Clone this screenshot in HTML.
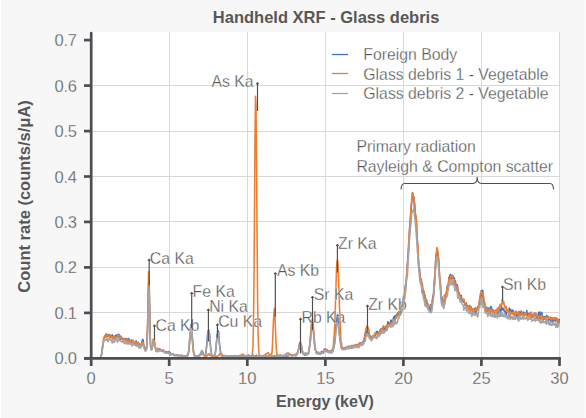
<!DOCTYPE html><html><head><meta charset="utf-8"><style>
html,body{margin:0;padding:0;background:#f7f7f7;width:586px;height:418px;overflow:hidden}
svg{display:block}
text{font-family:'Liberation Sans',sans-serif}
.er{stroke:#fff;stroke-width:0.28px;paint-order:normal}
.eg{stroke:#f7f7f7;stroke-width:0.28px;paint-order:normal}
</style></head><body>
<svg width="586" height="418" viewBox="0 0 586 418">
<rect x="0" y="0" width="586" height="418" fill="#f7f7f7"/>
<rect x="0" y="0" width="1" height="418" fill="#ffffff"/>
<rect x="585" y="0" width="1" height="418" fill="#fcfcfc"/>
<rect x="91" y="32" width="468.7" height="326.3" fill="#ffffff"/>

<line x1="169.5" y1="32" x2="169.5" y2="358.3" stroke="#d9d9d9" stroke-width="1"/>
<line x1="247.5" y1="32" x2="247.5" y2="358.3" stroke="#d9d9d9" stroke-width="1"/>
<line x1="325.5" y1="32" x2="325.5" y2="358.3" stroke="#d9d9d9" stroke-width="1"/>
<line x1="403.5" y1="32" x2="403.5" y2="358.3" stroke="#d9d9d9" stroke-width="1"/>
<line x1="481.5" y1="32" x2="481.5" y2="358.3" stroke="#d9d9d9" stroke-width="1"/>
<line x1="559.5" y1="32" x2="559.5" y2="358.3" stroke="#d9d9d9" stroke-width="1"/>
<line x1="91.2" y1="312.5" x2="559.7" y2="312.5" stroke="#d9d9d9" stroke-width="1"/>
<line x1="91.2" y1="267.5" x2="559.7" y2="267.5" stroke="#d9d9d9" stroke-width="1"/>
<line x1="91.2" y1="221.5" x2="559.7" y2="221.5" stroke="#d9d9d9" stroke-width="1"/>
<line x1="91.2" y1="176.5" x2="559.7" y2="176.5" stroke="#d9d9d9" stroke-width="1"/>
<line x1="91.2" y1="131.5" x2="559.7" y2="131.5" stroke="#d9d9d9" stroke-width="1"/>
<line x1="91.2" y1="85.5" x2="559.7" y2="85.5" stroke="#d9d9d9" stroke-width="1"/>
<path d="M91.2,358.3 L91.7,358.3 L92.2,358.3 L92.7,358.3 L93.2,358.3 L93.7,358.3 L94.2,358.3 L94.7,358.3 L95.2,358.3 L95.7,358.3 L96.2,358.3 L96.7,358.3 L97.2,358.3 L97.7,358.3 L98.2,358.3 L98.7,358.3 L99.2,358.3 L99.7,358.3 L100.2,358.2 L100.7,356.9 L101.2,355.9 L101.7,353.8 L102.2,348.7 L102.7,346.0 L103.2,343.5 L103.7,339.4 L104.2,337.1 L104.7,336.9 L105.2,337.1 L105.7,335.1 L106.2,334.0 L106.7,335.6 L107.2,336.4 L107.7,335.1 L108.2,334.7 L108.7,336.2 L109.2,335.2 L109.7,334.6 L110.2,336.3 L110.7,337.2 L111.2,335.7 L111.7,335.9 L112.2,334.8 L112.7,338.0 L113.2,337.2 L113.7,337.5 L114.2,338.7 L114.7,336.4 L115.2,335.9 L115.7,337.6 L116.2,335.0 L116.7,335.7 L117.2,335.7 L117.7,335.6 L118.2,334.2 L118.7,336.9 L119.2,334.6 L119.7,335.4 L120.2,339.3 L120.7,337.3 L121.2,338.4 L121.7,337.4 L122.2,339.1 L122.7,338.7 L123.2,338.5 L123.7,340.1 L124.2,338.5 L124.7,339.5 L125.2,339.0 L125.7,340.4 L126.2,338.6 L126.7,339.4 L127.2,340.4 L127.7,339.6 L128.2,339.1 L128.7,338.6 L129.2,342.7 L129.7,340.0 L130.2,340.6 L130.7,341.4 L131.2,342.6 L131.7,340.1 L132.2,343.1 L132.7,341.2 L133.2,340.6 L133.7,344.0 L134.2,342.7 L134.7,344.0 L135.2,342.4 L135.7,341.2 L136.2,340.9 L136.7,345.2 L137.2,344.1 L137.7,342.9 L138.2,342.2 L138.7,343.6 L139.2,345.0 L139.7,344.2 L140.2,344.7 L140.7,345.1 L141.2,345.4 L141.7,343.0 L142.2,340.8 L142.7,339.3 L143.2,340.1 L143.6,344.2 L144.1,346.5 L144.6,347.0 L145.1,349.2 L145.6,350.6 L146.1,348.2 L146.6,347.5 L147.1,339.8 L147.6,326.0 L148.1,301.1 L148.6,283.6 L149.1,283.0 L149.6,305.5 L150.1,334.8 L150.6,346.0 L151.1,348.3 L151.6,349.7 L152.1,348.1 L152.6,345.9 L153.1,342.5 L153.6,339.6 L154.1,341.3 L154.6,342.8 L155.1,347.0 L155.6,348.3 L156.1,351.2 L156.6,351.0 L157.1,349.3 L157.6,350.4 L158.1,349.5 L158.6,349.5 L159.1,348.9 L159.6,349.4 L160.1,349.3 L160.6,350.2 L161.1,350.8 L161.6,350.9 L162.1,350.9 L162.6,351.5 L163.1,351.2 L163.6,351.1 L164.1,351.0 L164.6,351.7 L165.1,353.0 L165.6,351.9 L166.1,351.9 L166.6,351.6 L167.1,352.1 L167.6,353.1 L168.1,353.4 L168.6,351.8 L169.1,352.8 L169.6,352.3 L170.1,352.3 L170.6,354.2 L171.1,353.7 L171.6,353.8 L172.1,354.0 L172.6,354.1 L173.1,354.5 L173.6,354.6 L174.1,355.6 L174.6,355.1 L175.1,355.4 L175.6,355.1 L176.1,355.4 L176.6,355.0 L177.1,354.9 L177.6,355.2 L178.1,355.3 L178.6,355.4 L179.1,355.7 L179.6,355.6 L180.1,355.8 L180.6,355.5 L181.1,355.7 L181.6,355.5 L182.1,356.4 L182.6,355.4 L183.1,356.2 L183.6,356.2 L184.1,356.0 L184.6,356.2 L185.1,355.9 L185.6,356.3 L186.1,356.5 L186.6,356.4 L187.1,355.4 L187.6,355.5 L188.1,355.1 L188.6,352.0 L189.1,349.0 L189.6,339.1 L190.1,335.9 L190.6,327.0 L191.1,324.5 L191.6,329.9 L192.1,333.4 L192.6,340.1 L193.1,347.2 L193.6,351.9 L194.1,354.0 L194.6,355.6 L195.1,355.9 L195.6,356.3 L196.1,356.0 L196.6,356.6 L197.1,355.9 L197.6,356.5 L198.1,356.7 L198.6,356.0 L199.1,355.3 L199.6,355.2 L200.1,355.1 L200.6,353.3 L201.1,352.6 L201.6,351.3 L202.1,350.7 L202.6,353.1 L203.1,352.5 L203.6,354.6 L204.1,355.4 L204.6,356.1 L205.1,356.0 L205.6,354.6 L206.1,350.9 L206.6,345.8 L207.1,341.6 L207.6,333.9 L208.1,330.8 L208.6,331.4 L209.1,330.2 L209.6,334.8 L210.1,342.1 L210.6,347.1 L211.1,351.1 L211.6,354.6 L212.1,356.1 L212.6,356.0 L213.1,356.2 L213.6,356.3 L214.1,355.5 L214.6,354.5 L215.1,354.1 L215.6,350.8 L216.1,346.3 L216.6,341.1 L217.1,335.1 L217.6,333.2 L218.1,330.8 L218.6,331.5 L219.1,338.1 L219.6,345.3 L220.1,348.9 L220.6,352.0 L221.1,354.5 L221.6,355.9 L222.1,355.4 L222.6,356.7 L223.1,356.0 L223.6,356.3 L224.1,356.7 L224.6,355.8 L225.1,356.1 L225.6,356.7 L226.1,356.0 L226.6,356.4 L227.1,357.0 L227.6,356.5 L228.1,356.2 L228.6,356.0 L229.1,356.2 L229.6,356.2 L230.1,356.1 L230.6,356.3 L231.1,355.8 L231.6,356.2 L232.1,356.1 L232.6,356.0 L233.1,356.7 L233.6,356.5 L234.1,355.6 L234.6,356.1 L235.1,356.4 L235.6,356.1 L236.1,356.4 L236.6,356.1 L237.1,356.5 L237.6,356.1 L238.1,356.9 L238.6,355.7 L239.1,356.4 L239.6,356.9 L240.1,356.3 L240.6,356.4 L241.1,356.2 L241.6,356.7 L242.1,356.1 L242.6,354.8 L243.1,356.7 L243.6,356.1 L244.1,356.3 L244.6,356.1 L245.1,356.9 L245.6,356.7 L246.1,356.0 L246.6,356.2 L247.1,355.5 L247.5,356.5 L248.0,356.1 L248.5,355.0 L249.0,356.5 L249.5,356.5 L250.0,356.2 L250.5,356.2 L251.0,355.8 L251.5,356.1 L252.0,356.5 L252.5,356.1 L253.0,355.1 L253.5,355.6 L254.0,357.3 L254.5,356.2 L255.0,356.5 L255.5,355.9 L256.0,356.2 L256.5,355.3 L257.0,355.7 L257.5,355.7 L258.0,356.0 L258.5,356.1 L259.0,355.9 L259.5,355.5 L260.0,355.9 L260.5,356.2 L261.0,355.5 L261.5,356.0 L262.0,356.1 L262.5,356.4 L263.0,356.3 L263.5,356.3 L264.0,357.2 L264.5,355.6 L265.0,355.8 L265.5,356.1 L266.0,355.6 L266.5,355.8 L267.0,355.8 L267.5,357.0 L268.0,356.1 L268.5,355.7 L269.0,355.3 L269.5,355.2 L270.0,355.3 L270.5,356.4 L271.0,356.9 L271.5,355.7 L272.0,355.9 L272.5,355.5 L273.0,355.9 L273.5,355.8 L274.0,356.5 L274.5,355.7 L275.0,356.1 L275.5,355.7 L276.0,355.6 L276.5,355.9 L277.0,355.7 L277.5,355.8 L278.0,355.5 L278.5,355.6 L279.0,356.0 L279.5,356.0 L280.0,355.0 L280.5,355.8 L281.0,355.3 L281.5,355.6 L282.0,356.0 L282.5,356.0 L283.0,355.6 L283.5,355.5 L284.0,355.4 L284.5,356.2 L285.0,355.9 L285.5,355.6 L286.0,354.8 L286.5,356.6 L287.0,355.3 L287.5,355.7 L288.0,355.2 L288.5,355.6 L289.0,355.2 L289.5,354.6 L290.0,355.2 L290.5,355.1 L291.0,355.1 L291.5,355.6 L292.0,354.9 L292.5,355.3 L293.0,355.5 L293.5,355.1 L294.0,355.2 L294.5,354.7 L295.0,355.0 L295.5,355.2 L296.0,354.1 L296.5,354.0 L297.0,353.3 L297.5,352.6 L298.0,351.5 L298.5,349.5 L299.0,346.9 L299.5,343.4 L300.0,342.9 L300.5,344.7 L301.0,344.5 L301.5,348.1 L302.0,349.1 L302.5,352.2 L303.0,353.6 L303.5,353.6 L304.0,354.1 L304.5,355.2 L305.0,353.9 L305.5,353.1 L306.0,355.1 L306.5,353.2 L307.0,354.5 L307.5,354.2 L308.0,353.5 L308.5,353.4 L309.0,349.6 L309.5,347.2 L310.0,344.1 L310.5,338.3 L311.0,334.3 L311.5,327.6 L312.0,322.7 L312.5,326.9 L313.0,327.7 L313.5,331.7 L314.0,336.3 L314.5,341.5 L315.0,347.6 L315.5,350.6 L316.0,351.4 L316.5,352.9 L317.0,353.2 L317.5,352.5 L318.0,352.1 L318.5,353.0 L319.0,353.3 L319.5,352.7 L320.0,354.2 L320.5,353.0 L321.0,353.5 L321.5,351.2 L322.0,352.1 L322.5,352.1 L323.0,352.0 L323.5,353.1 L324.0,350.2 L324.5,348.9 L325.0,350.4 L325.5,349.1 L326.0,349.2 L326.5,351.4 L327.0,349.9 L327.5,350.0 L328.0,351.2 L328.5,351.6 L329.0,351.1 L329.5,352.8 L330.0,351.6 L330.5,350.8 L331.0,352.4 L331.5,350.6 L332.0,351.4 L332.5,352.2 L333.0,349.9 L333.5,349.3 L334.0,345.9 L334.5,344.0 L335.0,336.7 L335.5,333.4 L336.0,325.8 L336.5,322.1 L337.0,318.1 L337.5,314.4 L338.0,317.9 L338.5,323.1 L339.0,329.8 L339.5,332.0 L340.0,337.8 L340.5,343.1 L341.0,345.3 L341.5,348.1 L342.0,349.0 L342.5,349.2 L343.0,348.3 L343.5,348.4 L344.0,349.2 L344.5,347.8 L345.0,347.6 L345.5,348.0 L346.0,347.2 L346.5,348.2 L347.0,347.9 L347.5,347.3 L348.0,347.6 L348.5,346.8 L349.0,348.5 L349.5,345.9 L350.0,347.8 L350.5,347.2 L351.0,348.2 L351.4,346.2 L351.9,345.4 L352.4,345.5 L352.9,345.6 L353.4,347.7 L353.9,346.8 L354.4,346.4 L354.9,346.7 L355.4,344.5 L355.9,345.3 L356.4,345.4 L356.9,344.7 L357.4,346.0 L357.9,345.8 L358.4,345.6 L358.9,344.0 L359.4,344.0 L359.9,343.5 L360.4,342.8 L360.9,345.1 L361.4,344.1 L361.9,343.0 L362.4,344.3 L362.9,343.0 L363.4,340.7 L363.9,339.6 L364.4,338.3 L364.9,337.8 L365.4,336.2 L365.9,332.4 L366.4,332.8 L366.9,330.8 L367.4,329.4 L367.9,332.6 L368.4,334.2 L368.9,334.7 L369.4,335.2 L369.9,336.1 L370.4,337.0 L370.9,336.6 L371.4,339.2 L371.9,338.0 L372.4,336.4 L372.9,337.5 L373.4,337.7 L373.9,337.2 L374.4,336.5 L374.9,335.2 L375.4,336.0 L375.9,334.0 L376.4,331.6 L376.9,333.8 L377.4,331.5 L377.9,332.5 L378.4,334.1 L378.9,332.6 L379.4,333.3 L379.9,330.4 L380.4,332.8 L380.9,328.9 L381.4,329.6 L381.9,333.0 L382.4,328.5 L382.9,327.0 L383.4,330.1 L383.9,327.1 L384.4,330.9 L384.9,327.4 L385.4,329.9 L385.9,326.2 L386.4,329.4 L386.9,330.3 L387.4,325.1 L387.9,321.7 L388.4,325.9 L388.9,323.2 L389.4,324.0 L389.9,324.2 L390.4,322.3 L390.9,320.1 L391.4,324.5 L391.9,321.0 L392.4,320.9 L392.9,323.4 L393.4,317.8 L393.9,316.7 L394.4,321.1 L394.9,315.9 L395.4,318.3 L395.9,318.1 L396.4,314.6 L396.9,316.3 L397.4,315.5 L397.9,312.7 L398.4,312.4 L398.9,312.4 L399.4,315.8 L399.9,315.2 L400.4,309.1 L400.9,311.8 L401.4,308.3 L401.9,309.0 L402.4,305.3 L402.9,305.4 L403.4,297.1 L403.9,300.0 L404.4,295.3 L404.9,292.0 L405.4,285.1 L405.9,285.9 L406.4,277.9 L406.9,272.6 L407.4,264.8 L407.9,258.2 L408.4,251.0 L408.9,239.8 L409.4,233.1 L409.9,224.1 L410.4,219.0 L410.9,213.7 L411.4,206.1 L411.9,199.9 L412.4,192.5 L412.9,197.3 L413.4,196.8 L413.9,197.0 L414.4,207.8 L414.9,211.6 L415.4,215.5 L415.9,218.7 L416.4,219.8 L416.9,233.2 L417.4,240.4 L417.9,250.6 L418.4,262.3 L418.9,268.6 L419.4,267.6 L419.9,273.8 L420.4,280.2 L420.9,278.2 L421.4,286.3 L421.9,283.2 L422.4,284.7 L422.9,291.2 L423.4,293.8 L423.9,291.6 L424.4,297.4 L424.9,295.2 L425.4,301.1 L425.9,298.7 L426.4,301.7 L426.9,304.1 L427.4,306.2 L427.9,304.8 L428.4,309.9 L428.9,307.4 L429.4,308.3 L429.9,306.6 L430.4,310.6 L430.9,304.5 L431.4,307.7 L431.9,307.7 L432.4,300.1 L432.9,296.0 L433.4,295.0 L433.9,290.5 L434.4,281.7 L434.9,275.5 L435.4,267.1 L435.9,256.6 L436.4,253.9 L436.9,251.6 L437.4,251.1 L437.9,254.5 L438.4,257.6 L438.9,264.1 L439.4,274.0 L439.9,280.5 L440.4,282.5 L440.9,292.3 L441.4,298.1 L441.9,296.7 L442.4,302.6 L442.9,305.2 L443.4,300.9 L443.9,302.8 L444.4,300.2 L444.9,296.5 L445.4,295.3 L445.9,294.7 L446.4,292.5 L446.9,290.8 L447.4,285.3 L447.9,287.1 L448.4,284.8 L448.9,277.4 L449.4,280.9 L449.9,275.2 L450.4,274.4 L450.9,276.6 L451.4,278.9 L451.9,275.3 L452.4,275.5 L452.9,275.7 L453.4,278.7 L453.9,277.6 L454.4,278.5 L454.9,284.8 L455.4,281.0 L455.8,284.7 L456.3,287.3 L456.8,288.0 L457.3,284.7 L457.8,287.8 L458.3,294.7 L458.8,292.1 L459.3,293.7 L459.8,294.9 L460.3,296.6 L460.8,299.5 L461.3,295.6 L461.8,300.2 L462.3,299.9 L462.8,301.2 L463.3,302.3 L463.8,300.1 L464.3,301.5 L464.8,304.4 L465.3,305.6 L465.8,305.3 L466.3,303.0 L466.8,305.4 L467.3,305.8 L467.8,307.5 L468.3,307.9 L468.8,307.5 L469.3,312.0 L469.8,305.6 L470.3,310.6 L470.8,310.5 L471.3,307.1 L471.8,309.5 L472.3,310.1 L472.8,311.6 L473.3,313.6 L473.8,310.5 L474.3,308.6 L474.8,312.7 L475.3,308.3 L475.8,313.0 L476.3,311.9 L476.8,309.1 L477.3,309.2 L477.8,306.5 L478.3,307.5 L478.8,305.6 L479.3,304.4 L479.8,299.9 L480.3,296.7 L480.8,295.2 L481.3,290.6 L481.8,292.8 L482.3,297.0 L482.8,290.3 L483.3,300.0 L483.8,303.8 L484.3,301.3 L484.8,303.6 L485.3,309.7 L485.8,311.3 L486.3,311.0 L486.8,307.2 L487.3,310.2 L487.8,311.4 L488.3,310.0 L488.8,307.8 L489.3,312.9 L489.8,311.1 L490.3,313.1 L490.8,306.4 L491.3,307.2 L491.8,308.9 L492.3,311.1 L492.8,309.7 L493.3,315.0 L493.8,310.6 L494.3,313.7 L494.8,313.8 L495.3,312.7 L495.8,312.1 L496.3,310.4 L496.8,310.2 L497.3,311.1 L497.8,313.4 L498.3,310.3 L498.8,311.6 L499.3,309.0 L499.8,312.7 L500.3,315.9 L500.8,311.2 L501.3,305.8 L501.8,308.8 L502.3,310.0 L502.8,308.0 L503.3,309.0 L503.8,309.4 L504.3,311.7 L504.8,311.0 L505.3,311.2 L505.8,313.2 L506.3,314.4 L506.8,312.2 L507.3,310.8 L507.8,311.5 L508.3,311.9 L508.8,311.9 L509.3,308.1 L509.8,312.5 L510.3,311.1 L510.8,309.4 L511.3,313.0 L511.8,312.6 L512.3,311.2 L512.8,310.0 L513.3,312.6 L513.8,312.6 L514.3,313.1 L514.8,315.5 L515.3,311.3 L515.8,313.8 L516.3,316.6 L516.8,313.7 L517.3,316.7 L517.8,315.4 L518.3,313.5 L518.8,315.3 L519.3,311.7 L519.8,316.4 L520.3,313.2 L520.8,312.7 L521.3,311.1 L521.8,312.2 L522.3,313.5 L522.8,313.8 L523.3,314.1 L523.8,312.0 L524.3,315.4 L524.8,313.3 L525.3,314.4 L525.8,313.9 L526.3,314.9 L526.8,310.5 L527.3,315.7 L527.8,314.1 L528.3,314.1 L528.8,313.6 L529.3,314.0 L529.8,314.1 L530.3,313.1 L530.8,317.7 L531.3,315.0 L531.8,317.4 L532.3,314.8 L532.8,317.4 L533.3,317.1 L533.8,315.5 L534.3,313.0 L534.8,314.5 L535.3,315.1 L535.8,313.2 L536.3,317.5 L536.8,319.7 L537.3,316.7 L537.8,316.6 L538.3,313.9 L538.8,312.4 L539.3,318.7 L539.8,311.9 L540.3,313.7 L540.8,315.1 L541.3,316.0 L541.8,312.4 L542.3,316.7 L542.8,317.8 L543.3,316.8 L543.8,319.5 L544.3,316.4 L544.8,317.5 L545.3,316.8 L545.8,316.9 L546.3,319.5 L546.8,315.4 L547.3,319.6 L547.8,316.3 L548.3,320.8 L548.8,317.4 L549.3,319.6 L549.8,318.2 L550.3,319.5 L550.8,322.3 L551.3,320.6 L551.8,318.6 L552.3,317.7 L552.8,321.5 L553.3,322.7 L553.8,320.7 L554.3,319.6 L554.8,320.5 L555.3,320.9 L555.8,318.1 L556.3,318.0 L556.8,318.5 L557.3,321.5 L557.8,319.9 L558.3,320.5 L558.8,322.8 L559.3,319.0" fill="none" stroke="#4472c4" stroke-width="1.55" stroke-linejoin="round"/>
<path d="M91.2,358.3 L91.7,358.3 L92.2,358.3 L92.7,358.3 L93.2,358.3 L93.7,358.3 L94.2,358.3 L94.7,358.3 L95.2,358.3 L95.7,358.3 L96.2,358.3 L96.7,358.3 L97.2,358.3 L97.7,358.3 L98.2,358.3 L98.7,358.3 L99.2,358.3 L99.7,358.3 L100.2,358.1 L100.7,357.2 L101.2,355.1 L101.7,352.7 L102.2,349.7 L102.7,344.6 L103.2,341.9 L103.7,338.2 L104.2,338.5 L104.7,335.8 L105.2,336.5 L105.7,336.6 L106.2,337.6 L106.7,333.6 L107.2,336.0 L107.7,335.8 L108.2,335.0 L108.7,336.4 L109.2,335.8 L109.7,337.8 L110.2,336.3 L110.7,337.0 L111.2,336.1 L111.7,336.5 L112.2,338.1 L112.7,338.6 L113.2,337.8 L113.7,336.1 L114.2,336.5 L114.7,336.5 L115.2,339.0 L115.7,339.7 L116.2,337.7 L116.7,337.4 L117.2,337.3 L117.7,335.5 L118.2,335.0 L118.7,335.5 L119.2,335.5 L119.7,335.5 L120.2,336.9 L120.7,338.0 L121.2,336.3 L121.7,339.0 L122.2,338.8 L122.7,340.0 L123.2,339.6 L123.7,339.0 L124.2,339.1 L124.7,339.9 L125.2,339.6 L125.7,340.1 L126.2,342.0 L126.7,343.4 L127.2,338.5 L127.7,340.0 L128.2,340.9 L128.7,342.6 L129.2,342.3 L129.7,340.1 L130.2,343.9 L130.7,341.9 L131.2,341.0 L131.7,341.8 L132.2,341.4 L132.7,342.3 L133.2,340.3 L133.7,343.4 L134.2,343.8 L134.7,342.6 L135.2,341.8 L135.7,343.2 L136.2,342.5 L136.7,344.0 L137.2,344.7 L137.7,342.8 L138.2,342.9 L138.7,343.1 L139.2,344.9 L139.7,345.7 L140.2,345.9 L140.7,345.4 L141.2,344.7 L141.7,344.1 L142.2,344.3 L142.7,341.9 L143.2,342.6 L143.6,344.6 L144.1,347.0 L144.6,348.6 L145.1,348.9 L145.6,349.5 L146.1,349.3 L146.6,348.4 L147.1,341.0 L147.6,323.5 L148.1,297.6 L148.6,271.5 L149.1,278.5 L149.6,304.3 L150.1,332.0 L150.6,345.0 L151.1,348.7 L151.6,349.0 L152.1,347.8 L152.6,346.0 L153.1,339.4 L153.6,340.2 L154.1,339.6 L154.6,341.8 L155.1,345.6 L155.6,347.9 L156.1,349.0 L156.6,349.1 L157.1,349.8 L157.6,348.2 L158.1,350.7 L158.6,349.9 L159.1,350.3 L159.6,350.4 L160.1,350.0 L160.6,349.3 L161.1,350.7 L161.6,350.8 L162.1,350.1 L162.6,350.4 L163.1,349.7 L163.6,350.5 L164.1,351.1 L164.6,351.6 L165.1,351.5 L165.6,352.0 L166.1,352.8 L166.6,352.3 L167.1,352.6 L167.6,352.8 L168.1,353.1 L168.6,352.3 L169.1,352.9 L169.6,353.0 L170.1,353.9 L170.6,354.2 L171.1,354.1 L171.6,354.0 L172.1,354.4 L172.6,354.5 L173.1,354.2 L173.6,354.6 L174.1,355.3 L174.6,355.1 L175.1,355.3 L175.6,355.1 L176.1,355.6 L176.6,355.3 L177.1,355.1 L177.6,355.4 L178.1,355.7 L178.6,355.7 L179.1,355.5 L179.6,355.4 L180.1,355.3 L180.6,355.7 L181.1,356.2 L181.6,355.3 L182.1,355.7 L182.6,355.7 L183.1,355.8 L183.6,356.3 L184.1,356.0 L184.6,355.9 L185.1,355.7 L185.6,356.0 L186.1,357.1 L186.6,356.1 L187.1,355.9 L187.6,355.2 L188.1,354.4 L188.6,351.5 L189.1,348.2 L189.6,342.7 L190.1,336.8 L190.6,334.2 L191.1,329.8 L191.6,332.1 L192.1,338.3 L192.6,343.4 L193.1,348.9 L193.6,353.0 L194.1,354.9 L194.6,355.8 L195.1,356.0 L195.6,356.3 L196.1,356.1 L196.6,356.8 L197.1,356.3 L197.6,356.8 L198.1,356.4 L198.6,356.1 L199.1,356.2 L199.6,356.1 L200.1,355.7 L200.6,354.5 L201.1,354.8 L201.6,353.3 L202.1,354.2 L202.6,354.1 L203.1,354.5 L203.6,355.6 L204.1,355.7 L204.6,355.8 L205.1,356.5 L205.6,356.2 L206.1,356.1 L206.6,356.4 L207.1,355.4 L207.6,355.2 L208.1,354.0 L208.6,354.8 L209.1,353.9 L209.6,355.1 L210.1,354.7 L210.6,355.6 L211.1,355.9 L211.6,355.9 L212.1,355.9 L212.6,355.8 L213.1,355.7 L213.6,356.4 L214.1,356.6 L214.6,357.1 L215.1,356.4 L215.6,356.0 L216.1,356.1 L216.6,356.2 L217.1,356.3 L217.6,356.2 L218.1,355.8 L218.6,355.2 L219.1,355.4 L219.6,353.7 L220.1,354.1 L220.6,353.2 L221.1,353.5 L221.6,353.7 L222.1,354.6 L222.6,355.3 L223.1,355.5 L223.6,356.2 L224.1,355.3 L224.6,356.3 L225.1,356.4 L225.6,356.4 L226.1,356.6 L226.6,357.0 L227.1,356.3 L227.6,356.2 L228.1,356.7 L228.6,356.3 L229.1,356.6 L229.6,356.3 L230.1,356.1 L230.6,356.1 L231.1,356.1 L231.6,356.5 L232.1,356.0 L232.6,356.4 L233.1,356.2 L233.6,356.0 L234.1,356.3 L234.6,356.6 L235.1,356.1 L235.6,356.6 L236.1,356.5 L236.6,356.6 L237.1,356.0 L237.6,356.3 L238.1,356.9 L238.6,356.0 L239.1,355.5 L239.6,355.4 L240.1,356.0 L240.6,355.5 L241.1,354.9 L241.6,354.4 L242.1,354.5 L242.6,354.9 L243.1,354.2 L243.6,354.5 L244.1,355.5 L244.6,355.5 L245.1,355.6 L245.6,355.9 L246.1,355.9 L246.6,355.9 L247.1,356.0 L247.5,356.2 L248.0,356.6 L248.5,356.0 L249.0,355.8 L249.5,355.6 L250.0,356.2 L250.5,356.2 L251.0,355.7 L251.5,355.6 L252.0,355.4 L252.5,352.8 L253.0,345.2 L253.5,321.1 L254.0,277.6 L254.5,209.1 L255.0,138.6 L255.5,96.2 L256.0,105.4 L256.5,155.9 L257.0,226.5 L257.5,290.1 L258.0,329.9 L258.5,347.4 L259.0,353.7 L259.5,355.4 L260.0,356.3 L260.5,356.1 L261.0,356.2 L261.5,356.3 L262.0,356.5 L262.5,356.1 L263.0,356.3 L263.5,355.2 L264.0,355.8 L264.5,355.6 L265.0,355.3 L265.5,353.9 L266.0,354.5 L266.5,353.6 L267.0,353.4 L267.5,352.9 L268.0,352.9 L268.5,352.8 L269.0,354.5 L269.5,354.5 L270.0,354.4 L270.5,355.5 L271.0,355.3 L271.5,354.6 L272.0,352.6 L272.5,344.2 L273.0,331.3 L273.5,319.8 L274.0,312.1 L274.5,308.3 L275.0,317.5 L275.5,329.8 L276.0,342.1 L276.5,350.6 L277.0,353.8 L277.5,356.0 L278.0,355.3 L278.5,355.7 L279.0,355.4 L279.5,355.4 L280.0,355.9 L280.5,355.8 L281.0,356.0 L281.5,356.4 L282.0,355.8 L282.5,355.6 L283.0,356.0 L283.5,355.4 L284.0,355.5 L284.5,355.2 L285.0,355.4 L285.5,355.4 L286.0,353.9 L286.5,353.4 L287.0,353.2 L287.5,353.0 L288.0,352.9 L288.5,353.0 L289.0,353.5 L289.5,354.7 L290.0,353.9 L290.5,355.3 L291.0,355.0 L291.5,355.2 L292.0,355.0 L292.5,355.8 L293.0,354.7 L293.5,354.9 L294.0,354.8 L294.5,354.6 L295.0,355.3 L295.5,356.2 L296.0,354.7 L296.5,354.0 L297.0,353.5 L297.5,353.3 L298.0,351.5 L298.5,349.0 L299.0,348.0 L299.5,344.9 L300.0,343.5 L300.5,341.8 L301.0,345.0 L301.5,345.7 L302.0,349.3 L302.5,352.3 L303.0,351.7 L303.5,354.1 L304.0,353.8 L304.5,353.5 L305.0,354.5 L305.5,354.8 L306.0,353.8 L306.5,354.2 L307.0,354.6 L307.5,354.3 L308.0,353.5 L308.5,351.6 L309.0,350.3 L309.5,346.2 L310.0,340.3 L310.5,334.2 L311.0,327.1 L311.5,321.5 L312.0,321.8 L312.5,318.0 L313.0,322.5 L313.5,328.7 L314.0,336.3 L314.5,342.7 L315.0,347.0 L315.5,349.5 L316.0,352.2 L316.5,353.0 L317.0,353.3 L317.5,352.8 L318.0,353.3 L318.5,353.2 L319.0,352.5 L319.5,353.2 L320.0,352.7 L320.5,353.5 L321.0,352.7 L321.5,352.7 L322.0,352.4 L322.5,352.5 L323.0,352.4 L323.5,351.5 L324.0,351.0 L324.5,349.5 L325.0,349.2 L325.5,350.4 L326.0,349.4 L326.5,350.4 L327.0,350.3 L327.5,351.3 L328.0,352.2 L328.5,351.0 L329.0,351.4 L329.5,352.3 L330.0,352.7 L330.5,351.8 L331.0,352.1 L331.5,351.4 L332.0,350.3 L332.5,348.8 L333.0,348.0 L333.5,343.2 L334.0,337.3 L334.5,329.9 L335.0,319.5 L335.5,301.1 L336.0,285.7 L336.5,269.1 L337.0,261.3 L337.5,259.9 L338.0,263.4 L338.5,278.8 L339.0,291.5 L339.5,307.6 L340.0,318.7 L340.5,331.1 L341.0,342.1 L341.5,342.8 L342.0,347.2 L342.5,347.3 L343.0,348.7 L343.5,348.3 L344.0,348.1 L344.5,348.3 L345.0,348.9 L345.5,347.2 L346.0,347.8 L346.5,348.0 L347.0,347.3 L347.5,348.1 L348.0,346.3 L348.5,347.3 L349.0,347.1 L349.5,347.0 L350.0,347.8 L350.5,347.8 L351.0,346.7 L351.4,346.5 L351.9,345.6 L352.4,346.1 L352.9,347.1 L353.4,345.8 L353.9,345.5 L354.4,345.2 L354.9,345.5 L355.4,346.6 L355.9,344.6 L356.4,345.9 L356.9,344.7 L357.4,346.2 L357.9,344.2 L358.4,345.3 L358.9,343.6 L359.4,342.9 L359.9,343.2 L360.4,344.8 L360.9,344.4 L361.4,344.1 L361.9,342.6 L362.4,342.5 L362.9,342.1 L363.4,341.0 L363.9,339.4 L364.4,337.2 L364.9,333.4 L365.4,331.9 L365.9,328.3 L366.4,328.1 L366.9,326.1 L367.4,325.5 L367.9,327.7 L368.4,328.5 L368.9,330.3 L369.4,334.3 L369.9,336.0 L370.4,337.0 L370.9,336.8 L371.4,337.6 L371.9,336.4 L372.4,336.3 L372.9,335.9 L373.4,335.2 L373.9,335.6 L374.4,335.1 L374.9,333.1 L375.4,334.6 L375.9,333.4 L376.4,333.8 L376.9,334.0 L377.4,333.7 L377.9,333.7 L378.4,332.5 L378.9,332.8 L379.4,332.3 L379.9,330.1 L380.4,331.2 L380.9,329.4 L381.4,330.0 L381.9,329.0 L382.4,330.3 L382.9,329.0 L383.4,325.8 L383.9,327.5 L384.4,326.9 L384.9,327.4 L385.4,326.2 L385.9,328.2 L386.4,327.4 L386.9,325.5 L387.4,324.6 L387.9,325.7 L388.4,325.0 L388.9,324.8 L389.4,324.2 L389.9,325.0 L390.4,324.9 L390.9,322.7 L391.4,324.4 L391.9,323.0 L392.4,322.1 L392.9,322.1 L393.4,319.9 L393.9,320.3 L394.4,319.3 L394.9,320.0 L395.4,319.1 L395.9,316.8 L396.4,316.4 L396.9,317.0 L397.4,315.2 L397.9,314.8 L398.4,314.2 L398.9,311.4 L399.4,313.4 L399.9,311.2 L400.4,310.2 L400.9,309.9 L401.4,309.8 L401.9,305.3 L402.4,304.0 L402.9,302.1 L403.4,299.8 L403.9,297.2 L404.4,295.7 L404.9,290.4 L405.4,289.6 L405.9,282.2 L406.4,279.2 L406.9,271.6 L407.4,263.6 L407.9,258.3 L408.4,249.5 L408.9,238.0 L409.4,231.0 L409.9,223.9 L410.4,217.5 L410.9,207.9 L411.4,202.8 L411.9,197.6 L412.4,196.6 L412.9,192.9 L413.4,197.2 L413.9,197.0 L414.4,203.2 L414.9,203.0 L415.4,213.9 L415.9,214.8 L416.4,222.0 L416.9,235.3 L417.4,241.9 L417.9,246.7 L418.4,254.4 L418.9,265.6 L419.4,269.6 L419.9,275.2 L420.4,278.5 L420.9,280.9 L421.4,279.7 L421.9,284.8 L422.4,287.5 L422.9,289.7 L423.4,290.0 L423.9,291.9 L424.4,296.2 L424.9,294.3 L425.4,300.1 L425.9,300.5 L426.4,300.9 L426.9,300.3 L427.4,304.7 L427.9,304.7 L428.4,304.0 L428.9,305.8 L429.4,305.7 L429.9,306.3 L430.4,307.7 L430.9,306.8 L431.4,305.5 L431.9,305.3 L432.4,300.1 L432.9,302.0 L433.4,295.4 L433.9,285.4 L434.4,279.6 L434.9,273.2 L435.4,263.7 L435.9,255.4 L436.4,252.6 L436.9,247.6 L437.4,248.9 L437.9,251.7 L438.4,256.8 L438.9,261.9 L439.4,273.2 L439.9,279.8 L440.4,285.4 L440.9,294.4 L441.4,299.8 L441.9,299.8 L442.4,302.5 L442.9,303.2 L443.4,302.1 L443.9,302.6 L444.4,294.7 L444.9,298.8 L445.4,295.9 L445.9,295.5 L446.4,292.1 L446.9,287.3 L447.4,287.8 L447.9,284.8 L448.4,284.5 L448.9,278.9 L449.4,279.7 L449.9,280.3 L450.4,275.9 L450.9,277.0 L451.4,275.2 L451.9,276.1 L452.4,276.5 L452.9,277.6 L453.4,280.3 L453.9,282.5 L454.4,279.9 L454.9,283.0 L455.4,283.5 L455.8,285.8 L456.3,289.4 L456.8,289.4 L457.3,286.4 L457.8,291.1 L458.3,291.7 L458.8,294.6 L459.3,294.3 L459.8,295.2 L460.3,296.0 L460.8,296.7 L461.3,298.5 L461.8,299.3 L462.3,299.3 L462.8,299.6 L463.3,301.1 L463.8,298.9 L464.3,302.1 L464.8,302.9 L465.3,304.8 L465.8,302.8 L466.3,306.7 L466.8,308.2 L467.3,307.8 L467.8,306.0 L468.3,309.2 L468.8,306.0 L469.3,308.5 L469.8,311.1 L470.3,309.6 L470.8,306.8 L471.3,311.1 L471.8,312.0 L472.3,309.6 L472.8,308.6 L473.3,309.3 L473.8,311.4 L474.3,310.8 L474.8,310.6 L475.3,309.3 L475.8,307.8 L476.3,310.8 L476.8,308.2 L477.3,309.9 L477.8,307.2 L478.3,307.7 L478.8,305.0 L479.3,300.3 L479.8,299.2 L480.3,293.6 L480.8,293.7 L481.3,291.6 L481.8,292.1 L482.3,294.0 L482.8,295.6 L483.3,297.0 L483.8,296.7 L484.3,306.0 L484.8,305.7 L485.3,307.9 L485.8,309.9 L486.3,308.7 L486.8,310.8 L487.3,309.9 L487.8,308.1 L488.3,313.1 L488.8,309.8 L489.3,309.7 L489.8,311.9 L490.3,309.8 L490.8,310.2 L491.3,311.3 L491.8,309.1 L492.3,312.9 L492.8,310.1 L493.3,311.5 L493.8,312.7 L494.3,311.5 L494.8,311.8 L495.3,310.1 L495.8,313.4 L496.3,311.4 L496.8,311.6 L497.3,308.2 L497.8,311.7 L498.3,307.7 L498.8,311.1 L499.3,306.8 L499.8,306.3 L500.3,304.3 L500.8,304.8 L501.3,305.8 L501.8,304.4 L502.3,299.6 L502.8,301.4 L503.3,303.6 L503.8,301.7 L504.3,305.4 L504.8,306.7 L505.3,308.8 L505.8,306.4 L506.3,306.5 L506.8,311.8 L507.3,310.8 L507.8,310.4 L508.3,309.2 L508.8,316.0 L509.3,312.6 L509.8,312.0 L510.3,315.2 L510.8,312.5 L511.3,312.9 L511.8,312.2 L512.3,314.1 L512.8,312.7 L513.3,314.2 L513.8,312.5 L514.3,313.2 L514.8,314.0 L515.3,315.5 L515.8,311.1 L516.3,312.0 L516.8,312.3 L517.3,314.6 L517.8,314.2 L518.3,311.3 L518.8,312.7 L519.3,315.0 L519.8,313.8 L520.3,313.7 L520.8,314.2 L521.3,315.3 L521.8,312.2 L522.3,313.2 L522.8,314.4 L523.3,316.4 L523.8,315.1 L524.3,314.3 L524.8,313.1 L525.3,314.9 L525.8,312.9 L526.3,314.3 L526.8,315.6 L527.3,318.6 L527.8,316.4 L528.3,316.9 L528.8,315.1 L529.3,314.4 L529.8,313.0 L530.3,315.1 L530.8,316.7 L531.3,311.9 L531.8,314.8 L532.3,315.7 L532.8,315.8 L533.3,317.4 L533.8,314.7 L534.3,315.1 L534.8,313.5 L535.3,314.2 L535.8,314.6 L536.3,314.2 L536.8,316.4 L537.3,316.7 L537.8,316.2 L538.3,318.0 L538.8,316.5 L539.3,316.9 L539.8,315.6 L540.3,316.6 L540.8,319.3 L541.3,316.7 L541.8,314.9 L542.3,319.5 L542.8,318.1 L543.3,317.1 L543.8,319.0 L544.3,318.1 L544.8,317.3 L545.3,319.3 L545.8,317.2 L546.3,317.1 L546.8,319.5 L547.3,317.8 L547.8,316.5 L548.3,318.3 L548.8,317.6 L549.3,317.4 L549.8,318.7 L550.3,317.2 L550.8,318.1 L551.3,320.0 L551.8,318.1 L552.3,317.7 L552.8,317.9 L553.3,320.0 L553.8,318.6 L554.3,317.5 L554.8,319.1 L555.3,318.0 L555.8,317.9 L556.3,319.8 L556.8,319.0 L557.3,320.4 L557.8,318.7 L558.3,320.4 L558.8,321.1 L559.3,320.6" fill="none" stroke="#ed7d31" stroke-width="1.55" stroke-linejoin="round"/>
<path d="M91.2,358.3 L91.7,358.3 L92.2,358.3 L92.7,358.3 L93.2,358.3 L93.7,358.3 L94.2,358.3 L94.7,358.3 L95.2,358.3 L95.7,358.3 L96.2,358.3 L96.7,358.3 L97.2,358.3 L97.7,358.3 L98.2,358.3 L98.7,358.3 L99.2,358.3 L99.7,358.3 L100.2,358.3 L100.7,357.0 L101.2,356.1 L101.7,353.4 L102.2,351.0 L102.7,347.6 L103.2,343.6 L103.7,342.1 L104.2,339.6 L104.7,339.7 L105.2,339.9 L105.7,339.7 L106.2,340.1 L106.7,339.8 L107.2,338.3 L107.7,341.0 L108.2,341.6 L108.7,340.0 L109.2,338.4 L109.7,339.1 L110.2,338.9 L110.7,339.0 L111.2,341.0 L111.7,340.2 L112.2,343.0 L112.7,341.0 L113.2,339.8 L113.7,342.0 L114.2,342.5 L114.7,341.8 L115.2,340.3 L115.7,339.5 L116.2,338.1 L116.7,339.2 L117.2,341.8 L117.7,342.0 L118.2,338.8 L118.7,337.4 L119.2,340.4 L119.7,340.1 L120.2,341.0 L120.7,341.2 L121.2,341.8 L121.7,341.4 L122.2,341.0 L122.7,342.1 L123.2,341.6 L123.7,340.6 L124.2,343.5 L124.7,343.7 L125.2,342.4 L125.7,341.3 L126.2,343.0 L126.7,342.3 L127.2,343.6 L127.7,342.7 L128.2,344.2 L128.7,343.1 L129.2,343.5 L129.7,343.6 L130.2,342.8 L130.7,343.2 L131.2,344.8 L131.7,343.6 L132.2,346.0 L132.7,343.8 L133.2,342.4 L133.7,344.4 L134.2,344.6 L134.7,345.1 L135.2,344.6 L135.7,345.8 L136.2,345.0 L136.7,346.0 L137.2,346.2 L137.7,346.0 L138.2,346.3 L138.7,347.8 L139.2,344.9 L139.7,346.6 L140.2,348.3 L140.7,346.2 L141.2,346.9 L141.7,345.8 L142.2,343.7 L142.7,343.7 L143.2,346.0 L143.6,345.8 L144.1,348.0 L144.6,349.0 L145.1,351.0 L145.6,351.0 L146.1,350.4 L146.6,349.8 L147.1,344.8 L147.6,330.5 L148.1,310.3 L148.6,289.2 L149.1,297.9 L149.6,317.3 L150.1,337.5 L150.6,347.7 L151.1,349.7 L151.6,349.5 L152.1,347.9 L152.6,346.1 L153.1,344.1 L153.6,341.0 L154.1,343.6 L154.6,344.7 L155.1,347.1 L155.6,349.1 L156.1,351.1 L156.6,351.6 L157.1,349.7 L157.6,351.1 L158.1,351.8 L158.6,351.6 L159.1,350.8 L159.6,350.0 L160.1,350.8 L160.6,350.1 L161.1,350.8 L161.6,350.7 L162.1,350.5 L162.6,351.5 L163.1,351.2 L163.6,351.8 L164.1,352.1 L164.6,351.5 L165.1,352.5 L165.6,352.2 L166.1,352.9 L166.6,352.7 L167.1,353.1 L167.6,352.4 L168.1,353.1 L168.6,353.3 L169.1,352.6 L169.6,355.1 L170.1,354.3 L170.6,355.3 L171.1,354.1 L171.6,354.1 L172.1,354.2 L172.6,354.5 L173.1,355.1 L173.6,354.1 L174.1,354.9 L174.6,355.2 L175.1,355.7 L175.6,355.1 L176.1,355.5 L176.6,355.6 L177.1,355.4 L177.6,355.4 L178.1,355.9 L178.6,355.1 L179.1,356.0 L179.6,356.1 L180.1,355.6 L180.6,355.7 L181.1,355.8 L181.6,356.0 L182.1,355.9 L182.6,356.2 L183.1,356.6 L183.6,355.8 L184.1,356.4 L184.6,356.2 L185.1,355.9 L185.6,356.1 L186.1,355.2 L186.6,356.6 L187.1,356.3 L187.6,355.6 L188.1,354.0 L188.6,352.4 L189.1,349.0 L189.6,340.6 L190.1,335.6 L190.6,328.9 L191.1,325.2 L191.6,329.5 L192.1,335.1 L192.6,341.3 L193.1,348.2 L193.6,352.1 L194.1,355.1 L194.6,355.8 L195.1,356.5 L195.6,356.8 L196.1,355.8 L196.6,356.2 L197.1,356.1 L197.6,356.7 L198.1,356.3 L198.6,356.3 L199.1,356.6 L199.6,355.5 L200.1,355.3 L200.6,353.9 L201.1,353.3 L201.6,350.6 L202.1,350.4 L202.6,351.3 L203.1,353.2 L203.6,354.3 L204.1,354.6 L204.6,355.7 L205.1,355.2 L205.6,354.1 L206.1,352.4 L206.6,346.4 L207.1,343.8 L207.6,335.6 L208.1,331.1 L208.6,331.1 L209.1,330.5 L209.6,335.2 L210.1,341.9 L210.6,348.2 L211.1,351.4 L211.6,353.7 L212.1,355.4 L212.6,355.5 L213.1,356.0 L213.6,356.0 L214.1,355.5 L214.6,355.7 L215.1,354.3 L215.6,351.3 L216.1,347.2 L216.6,341.1 L217.1,336.1 L217.6,333.4 L218.1,332.6 L218.6,335.5 L219.1,340.2 L219.6,345.6 L220.1,349.2 L220.6,353.3 L221.1,355.0 L221.6,355.7 L222.1,356.3 L222.6,356.4 L223.1,357.1 L223.6,356.2 L224.1,356.4 L224.6,356.3 L225.1,356.2 L225.6,357.0 L226.1,355.6 L226.6,356.3 L227.1,356.3 L227.6,356.9 L228.1,356.1 L228.6,356.2 L229.1,356.4 L229.6,356.2 L230.1,355.9 L230.6,356.4 L231.1,356.6 L231.6,355.9 L232.1,356.2 L232.6,356.4 L233.1,355.6 L233.6,356.3 L234.1,356.4 L234.6,356.2 L235.1,356.4 L235.6,356.2 L236.1,356.3 L236.6,356.5 L237.1,356.4 L237.6,356.2 L238.1,356.2 L238.6,356.1 L239.1,356.0 L239.6,356.2 L240.1,356.1 L240.6,356.4 L241.1,356.4 L241.6,356.0 L242.1,356.9 L242.6,356.2 L243.1,355.2 L243.6,356.9 L244.1,355.8 L244.6,356.9 L245.1,356.2 L245.6,355.7 L246.1,355.8 L246.6,356.6 L247.1,356.7 L247.5,356.8 L248.0,356.0 L248.5,356.4 L249.0,356.3 L249.5,356.2 L250.0,356.1 L250.5,356.1 L251.0,356.2 L251.5,356.8 L252.0,355.8 L252.5,357.2 L253.0,355.8 L253.5,356.4 L254.0,356.3 L254.5,356.4 L255.0,356.4 L255.5,356.2 L256.0,356.3 L256.5,356.6 L257.0,355.9 L257.5,356.4 L258.0,355.7 L258.5,356.2 L259.0,356.4 L259.5,356.0 L260.0,355.9 L260.5,356.5 L261.0,356.3 L261.5,355.7 L262.0,356.5 L262.5,356.4 L263.0,356.1 L263.5,356.6 L264.0,357.0 L264.5,356.7 L265.0,356.0 L265.5,355.9 L266.0,355.9 L266.5,356.0 L267.0,356.5 L267.5,355.8 L268.0,355.7 L268.5,356.3 L269.0,355.7 L269.5,356.2 L270.0,356.0 L270.5,355.9 L271.0,356.6 L271.5,355.5 L272.0,356.3 L272.5,356.0 L273.0,356.2 L273.5,355.8 L274.0,355.8 L274.5,356.0 L275.0,355.5 L275.5,355.9 L276.0,356.1 L276.5,357.0 L277.0,356.0 L277.5,356.0 L278.0,356.2 L278.5,356.2 L279.0,355.7 L279.5,355.5 L280.0,355.2 L280.5,355.5 L281.0,356.1 L281.5,355.7 L282.0,356.3 L282.5,355.5 L283.0,355.7 L283.5,356.0 L284.0,355.8 L284.5,355.8 L285.0,356.0 L285.5,355.2 L286.0,354.5 L286.5,355.3 L287.0,355.2 L287.5,355.5 L288.0,355.7 L288.5,354.7 L289.0,355.7 L289.5,355.3 L290.0,355.5 L290.5,355.2 L291.0,355.4 L291.5,355.1 L292.0,355.9 L292.5,355.4 L293.0,354.7 L293.5,355.7 L294.0,355.5 L294.5,354.6 L295.0,355.0 L295.5,354.6 L296.0,355.9 L296.5,354.7 L297.0,354.8 L297.5,354.0 L298.0,351.6 L298.5,349.0 L299.0,348.6 L299.5,346.2 L300.0,344.6 L300.5,344.2 L301.0,346.5 L301.5,345.8 L302.0,349.4 L302.5,352.0 L303.0,353.4 L303.5,352.8 L304.0,353.3 L304.5,354.7 L305.0,354.3 L305.5,353.9 L306.0,355.0 L306.5,354.7 L307.0,353.7 L307.5,354.4 L308.0,353.9 L308.5,353.5 L309.0,351.6 L309.5,347.9 L310.0,345.2 L310.5,340.9 L311.0,335.0 L311.5,327.5 L312.0,326.8 L312.5,327.8 L313.0,329.4 L313.5,333.6 L314.0,339.1 L314.5,345.7 L315.0,347.7 L315.5,350.7 L316.0,351.6 L316.5,353.7 L317.0,352.8 L317.5,353.7 L318.0,354.3 L318.5,352.7 L319.0,353.7 L319.5,353.1 L320.0,353.4 L320.5,352.6 L321.0,352.5 L321.5,352.4 L322.0,352.5 L322.5,353.5 L323.0,353.2 L323.5,351.7 L324.0,351.9 L324.5,350.5 L325.0,350.4 L325.5,351.3 L326.0,351.2 L326.5,351.5 L327.0,351.7 L327.5,351.6 L328.0,351.4 L328.5,351.2 L329.0,352.6 L329.5,352.4 L330.0,351.1 L330.5,351.4 L331.0,351.7 L331.5,353.1 L332.0,352.1 L332.5,351.0 L333.0,350.8 L333.5,347.9 L334.0,347.3 L334.5,344.2 L335.0,341.7 L335.5,337.0 L336.0,331.6 L336.5,327.1 L337.0,323.7 L337.5,322.0 L338.0,323.6 L338.5,326.1 L339.0,333.6 L339.5,336.6 L340.0,340.8 L340.5,343.0 L341.0,346.9 L341.5,347.9 L342.0,349.5 L342.5,348.9 L343.0,349.0 L343.5,349.7 L344.0,349.5 L344.5,349.2 L345.0,348.6 L345.5,349.8 L346.0,348.2 L346.5,349.0 L347.0,347.2 L347.5,347.4 L348.0,348.7 L348.5,348.8 L349.0,346.3 L349.5,347.6 L350.0,347.5 L350.5,348.2 L351.0,347.9 L351.4,347.0 L351.9,347.1 L352.4,348.1 L352.9,346.3 L353.4,346.9 L353.9,347.8 L354.4,346.2 L354.9,347.0 L355.4,346.1 L355.9,347.0 L356.4,346.1 L356.9,347.6 L357.4,345.8 L357.9,347.3 L358.4,345.7 L358.9,347.8 L359.4,345.6 L359.9,344.7 L360.4,344.8 L360.9,343.9 L361.4,345.7 L361.9,343.2 L362.4,342.8 L362.9,345.0 L363.4,344.1 L363.9,343.2 L364.4,341.6 L364.9,340.0 L365.4,341.2 L365.9,336.3 L366.4,335.9 L366.9,336.0 L367.4,333.7 L367.9,335.7 L368.4,335.1 L368.9,336.9 L369.4,338.7 L369.9,337.8 L370.4,338.5 L370.9,339.9 L371.4,340.9 L371.9,339.6 L372.4,338.1 L372.9,338.7 L373.4,336.3 L373.9,337.6 L374.4,337.3 L374.9,336.8 L375.4,337.9 L375.9,336.8 L376.4,337.1 L376.9,338.6 L377.4,337.7 L377.9,334.5 L378.4,335.6 L378.9,334.9 L379.4,336.1 L379.9,334.8 L380.4,332.8 L380.9,333.3 L381.4,333.7 L381.9,330.9 L382.4,332.5 L382.9,332.5 L383.4,330.3 L383.9,333.5 L384.4,330.3 L384.9,332.0 L385.4,331.2 L385.9,330.7 L386.4,329.3 L386.9,329.0 L387.4,328.3 L387.9,328.1 L388.4,326.2 L388.9,325.4 L389.4,326.3 L389.9,325.8 L390.4,326.9 L390.9,327.5 L391.4,324.8 L391.9,325.1 L392.4,323.6 L392.9,326.8 L393.4,320.1 L393.9,325.1 L394.4,322.8 L394.9,321.0 L395.4,323.8 L395.9,322.1 L396.4,323.7 L396.9,322.4 L397.4,322.6 L397.9,319.0 L398.4,318.0 L398.9,318.3 L399.4,315.1 L399.9,314.0 L400.4,315.2 L400.9,314.4 L401.4,313.1 L401.9,311.9 L402.4,307.2 L402.9,307.0 L403.4,305.8 L403.9,303.2 L404.4,299.2 L404.9,297.7 L405.4,292.8 L405.9,289.1 L406.4,281.9 L406.9,277.0 L407.4,275.7 L407.9,267.3 L408.4,257.4 L408.9,250.4 L409.4,240.7 L409.9,234.8 L410.4,228.6 L410.9,223.7 L411.4,217.2 L411.9,211.8 L412.4,212.0 L412.9,210.2 L413.4,211.5 L413.9,209.1 L414.4,214.9 L414.9,218.9 L415.4,223.9 L415.9,230.0 L416.4,236.3 L416.9,242.0 L417.4,252.3 L417.9,255.7 L418.4,264.7 L418.9,271.0 L419.4,276.8 L419.9,280.7 L420.4,283.7 L420.9,283.9 L421.4,284.9 L421.9,293.1 L422.4,292.7 L422.9,293.7 L423.4,298.2 L423.9,299.4 L424.4,300.8 L424.9,305.9 L425.4,302.1 L425.9,304.9 L426.4,306.4 L426.9,307.3 L427.4,308.1 L427.9,305.6 L428.4,309.8 L428.9,309.5 L429.4,312.3 L429.9,311.3 L430.4,312.5 L430.9,312.0 L431.4,312.4 L431.9,310.8 L432.4,306.3 L432.9,302.5 L433.4,298.5 L433.9,294.8 L434.4,286.5 L434.9,284.3 L435.4,271.1 L435.9,266.4 L436.4,261.0 L436.9,256.8 L437.4,259.5 L437.9,259.6 L438.4,266.6 L438.9,271.1 L439.4,279.7 L439.9,285.5 L440.4,289.9 L440.9,298.9 L441.4,303.1 L441.9,305.6 L442.4,306.1 L442.9,302.3 L443.4,307.4 L443.9,308.6 L444.4,304.6 L444.9,304.3 L445.4,300.6 L445.9,297.8 L446.4,297.8 L446.9,295.7 L447.4,295.9 L447.9,290.5 L448.4,290.1 L448.9,285.1 L449.4,283.5 L449.9,285.3 L450.4,283.3 L450.9,281.9 L451.4,280.5 L451.9,285.0 L452.4,282.8 L452.9,280.3 L453.4,284.7 L453.9,285.3 L454.4,287.0 L454.9,290.3 L455.4,287.8 L455.8,290.0 L456.3,291.3 L456.8,291.4 L457.3,292.5 L457.8,298.3 L458.3,295.3 L458.8,298.3 L459.3,298.2 L459.8,300.7 L460.3,302.0 L460.8,299.7 L461.3,302.2 L461.8,303.6 L462.3,304.4 L462.8,304.6 L463.3,305.5 L463.8,310.2 L464.3,308.4 L464.8,308.0 L465.3,307.0 L465.8,306.6 L466.3,311.0 L466.8,306.9 L467.3,310.5 L467.8,310.4 L468.3,312.6 L468.8,313.2 L469.3,310.4 L469.8,313.4 L470.3,313.5 L470.8,311.9 L471.3,311.3 L471.8,316.6 L472.3,314.8 L472.8,314.7 L473.3,312.1 L473.8,311.3 L474.3,315.3 L474.8,314.7 L475.3,313.9 L475.8,313.4 L476.3,315.5 L476.8,313.2 L477.3,314.9 L477.8,317.0 L478.3,313.4 L478.8,308.7 L479.3,305.2 L479.8,307.7 L480.3,304.4 L480.8,299.5 L481.3,304.4 L481.8,297.8 L482.3,298.2 L482.8,307.3 L483.3,303.3 L483.8,307.5 L484.3,307.1 L484.8,310.7 L485.3,312.8 L485.8,313.1 L486.3,312.3 L486.8,313.8 L487.3,314.3 L487.8,316.7 L488.3,313.9 L488.8,314.7 L489.3,312.0 L489.8,315.0 L490.3,315.2 L490.8,316.2 L491.3,314.2 L491.8,315.7 L492.3,316.5 L492.8,313.1 L493.3,312.9 L493.8,316.4 L494.3,317.3 L494.8,314.1 L495.3,317.2 L495.8,311.7 L496.3,316.3 L496.8,314.6 L497.3,318.1 L497.8,316.2 L498.3,314.5 L498.8,315.4 L499.3,316.8 L499.8,312.1 L500.3,314.5 L500.8,315.8 L501.3,316.2 L501.8,315.5 L502.3,313.0 L502.8,316.3 L503.3,315.2 L503.8,316.8 L504.3,313.9 L504.8,316.4 L505.3,315.1 L505.8,315.8 L506.3,317.8 L506.8,316.0 L507.3,315.7 L507.8,319.0 L508.3,316.3 L508.8,312.0 L509.3,317.9 L509.8,316.5 L510.3,319.5 L510.8,316.8 L511.3,318.4 L511.8,316.4 L512.3,317.7 L512.8,319.4 L513.3,316.0 L513.8,318.0 L514.3,319.2 L514.8,317.7 L515.3,319.2 L515.8,317.2 L516.3,318.0 L516.8,318.5 L517.3,316.9 L517.8,319.9 L518.3,316.6 L518.8,321.1 L519.3,315.7 L519.8,317.9 L520.3,318.6 L520.8,319.3 L521.3,317.5 L521.8,318.6 L522.3,318.6 L522.8,316.9 L523.3,319.1 L523.8,318.9 L524.3,318.0 L524.8,317.1 L525.3,318.9 L525.8,318.5 L526.3,318.8 L526.8,317.8 L527.3,316.7 L527.8,320.4 L528.3,319.3 L528.8,319.2 L529.3,318.3 L529.8,317.0 L530.3,319.3 L530.8,319.1 L531.3,317.8 L531.8,321.3 L532.3,320.7 L532.8,320.3 L533.3,319.7 L533.8,319.5 L534.3,320.6 L534.8,317.4 L535.3,321.0 L535.8,320.4 L536.3,318.6 L536.8,319.1 L537.3,320.3 L537.8,319.8 L538.3,319.3 L538.8,320.6 L539.3,319.7 L539.8,322.0 L540.3,320.7 L540.8,323.2 L541.3,322.2 L541.8,322.7 L542.3,319.3 L542.8,321.9 L543.3,320.9 L543.8,322.7 L544.3,321.8 L544.8,322.0 L545.3,322.9 L545.8,320.5 L546.3,324.2 L546.8,321.0 L547.3,318.2 L547.8,323.3 L548.3,322.2 L548.8,324.5 L549.3,322.4 L549.8,325.0 L550.3,321.7 L550.8,323.4 L551.3,325.4 L551.8,324.7 L552.3,325.2 L552.8,323.5 L553.3,322.0 L553.8,323.9 L554.3,325.1 L554.8,324.7 L555.3,323.5 L555.8,327.2 L556.3,323.0 L556.8,323.4 L557.3,327.5 L557.8,322.5 L558.3,326.6 L558.8,324.7 L559.3,322.9" fill="none" stroke="#a5a5a5" stroke-width="1.55" stroke-linejoin="round"/>
<line x1="91.2" y1="33" x2="91.2" y2="358" stroke="#4b4e52" stroke-width="2.7" stroke-linecap="round"/>
<line x1="84" y1="358.3" x2="560.8" y2="358.3" stroke="#4b4e52" stroke-width="2.7"/>
<line x1="84" y1="358.3" x2="91.2" y2="358.3" stroke="#4b4e52" stroke-width="2.7"/>
<line x1="84" y1="312.9" x2="91.2" y2="312.9" stroke="#4b4e52" stroke-width="2.7"/>
<line x1="84" y1="267.4" x2="91.2" y2="267.4" stroke="#4b4e52" stroke-width="2.7"/>
<line x1="84" y1="221.9" x2="91.2" y2="221.9" stroke="#4b4e52" stroke-width="2.7"/>
<line x1="84" y1="176.5" x2="91.2" y2="176.5" stroke="#4b4e52" stroke-width="2.7"/>
<line x1="84" y1="131.1" x2="91.2" y2="131.1" stroke="#4b4e52" stroke-width="2.7"/>
<line x1="84" y1="85.6" x2="91.2" y2="85.6" stroke="#4b4e52" stroke-width="2.7"/>
<line x1="84" y1="40.1" x2="91.2" y2="40.1" stroke="#4b4e52" stroke-width="2.7"/>
<line x1="91.2" y1="358.3" x2="91.2" y2="366" stroke="#4b4e52" stroke-width="2.7"/>
<line x1="169.2" y1="358.3" x2="169.2" y2="366" stroke="#4b4e52" stroke-width="2.7"/>
<line x1="247.3" y1="358.3" x2="247.3" y2="366" stroke="#4b4e52" stroke-width="2.7"/>
<line x1="325.4" y1="358.3" x2="325.4" y2="366" stroke="#4b4e52" stroke-width="2.7"/>
<line x1="403.4" y1="358.3" x2="403.4" y2="366" stroke="#4b4e52" stroke-width="2.7"/>
<line x1="481.4" y1="358.3" x2="481.4" y2="366" stroke="#4b4e52" stroke-width="2.7"/>
<line x1="559.5" y1="358.3" x2="559.5" y2="366" stroke="#4b4e52" stroke-width="2.7"/>
<text x="76.5" y="364.3" text-anchor="end" class="eg" letter-spacing="-0.35" font-size="16.5" fill="#555555">0.0</text>
<text x="76.5" y="318.9" text-anchor="end" class="eg" letter-spacing="-0.35" font-size="16.5" fill="#555555">0.1</text>
<text x="76.5" y="273.4" text-anchor="end" class="eg" letter-spacing="-0.35" font-size="16.5" fill="#555555">0.2</text>
<text x="76.5" y="227.9" text-anchor="end" class="eg" letter-spacing="-0.35" font-size="16.5" fill="#555555">0.3</text>
<text x="76.5" y="182.5" text-anchor="end" class="eg" letter-spacing="-0.35" font-size="16.5" fill="#555555">0.4</text>
<text x="76.5" y="137.1" text-anchor="end" class="eg" letter-spacing="-0.35" font-size="16.5" fill="#555555">0.5</text>
<text x="76.5" y="91.6" text-anchor="end" class="eg" letter-spacing="-0.35" font-size="16.5" fill="#555555">0.6</text>
<text x="76.5" y="46.1" text-anchor="end" class="eg" letter-spacing="-0.35" font-size="16.5" fill="#555555">0.7</text>
<text x="91.2" y="383.8" class="eg" text-anchor="middle" font-size="16.5" fill="#555555">0</text>
<text x="169.2" y="383.8" class="eg" text-anchor="middle" font-size="16.5" fill="#555555">5</text>
<text x="247.3" y="383.8" class="eg" text-anchor="middle" font-size="16.5" fill="#555555">10</text>
<text x="325.4" y="383.8" class="eg" text-anchor="middle" font-size="16.5" fill="#555555">15</text>
<text x="403.4" y="383.8" class="eg" text-anchor="middle" font-size="16.5" fill="#555555">20</text>
<text x="481.4" y="383.8" class="eg" text-anchor="middle" font-size="16.5" fill="#555555">25</text>
<text x="559.5" y="383.8" class="eg" text-anchor="middle" font-size="16.5" fill="#555555">30</text>
<text x="326.1" y="22.7" text-anchor="middle" font-size="16.5" font-weight="bold" fill="#575757">Handheld XRF - Glass debris</text>
<text x="325" y="406.5" text-anchor="middle" font-size="16" font-weight="bold" fill="#575757">Energy (keV)</text>
<text transform="translate(29.7,196.4) rotate(-90)" x="0" y="0" text-anchor="middle" font-size="16.5" font-weight="bold" fill="#575757">Count rate (counts/s/μA)</text>
<line x1="331.8" y1="54.5" x2="348" y2="54.5" stroke="#4472c4" stroke-width="1.3"/>
<text class="er" x="363.3" y="59.8" font-size="15.8" fill="#555555">Foreign Body</text>
<line x1="331.8" y1="73.5" x2="348" y2="73.5" stroke="#ed7d31" stroke-width="1.3"/>
<text class="er" x="363.3" y="79.6" font-size="15.8" fill="#555555">Glass debris 1 - Vegetable</text>
<line x1="331.8" y1="93.5" x2="348" y2="93.5" stroke="#a5a5a5" stroke-width="1.3"/>
<text class="er" x="363.3" y="99.4" font-size="15.8" fill="#555555">Glass debris 2 - Vegetable</text>
<path d="M257.5,111 L257.5,82.6 M256.2,84.1 L257.5,82.8 L258.8,84.1" fill="none" stroke="#4d4d4d" stroke-width="1.15"/>
<text class="er" x="211.5" y="86.5" font-size="15.8" fill="#555555">As Ka</text>
<path d="M149.2,285 L149.2,259.20000000000005 M147.89999999999998,260.70000000000005 L149.2,259.40000000000003 L150.5,260.70000000000005" fill="none" stroke="#4d4d4d" stroke-width="1.15"/>
<text class="er" x="149.8" y="263.9" font-size="15.8" fill="#555555">Ca Ka</text>
<path d="M154.5,340 L154.5,324.90000000000003 M153.2,326.40000000000003 L154.5,325.1 L155.8,326.40000000000003" fill="none" stroke="#4d4d4d" stroke-width="1.15"/>
<text class="er" x="155.5" y="330.5" font-size="15.8" fill="#555555">Ca Kb</text>
<path d="M191.7,328 L191.7,292.3 M190.39999999999998,293.8 L191.7,292.5 L193.0,293.8" fill="none" stroke="#4d4d4d" stroke-width="1.15"/>
<text class="er" x="192.6" y="296.9" font-size="15.8" fill="#555555">Fe Ka</text>
<path d="M208.4,341.4 L208.4,309.0 M207.1,310.5 L208.4,309.2 L209.70000000000002,310.5" fill="none" stroke="#4d4d4d" stroke-width="1.15"/>
<text class="er" x="209.2" y="312.4" font-size="15.8" fill="#555555">Ni Ka</text>
<path d="M217.4,337.6 L217.4,323.8 M216.1,325.3 L217.4,324.0 L218.70000000000002,325.3" fill="none" stroke="#4d4d4d" stroke-width="1.15"/>
<text class="er" x="218.2" y="327.4" font-size="15.8" fill="#555555">Cu Ka</text>
<path d="M275.3,316.5 L275.3,272.6 M274.0,274.1 L275.3,272.8 L276.6,274.1" fill="none" stroke="#4d4d4d" stroke-width="1.15"/>
<text class="er" x="277.0" y="276.3" font-size="15.8" fill="#555555">As Kb</text>
<path d="M300.5,353.5 L300.5,318.20000000000005 M299.2,319.70000000000005 L300.5,318.40000000000003 L301.8,319.70000000000005" fill="none" stroke="#4d4d4d" stroke-width="1.15"/>
<text class="er" x="301.5" y="323.1" font-size="15.8" fill="#555555">Rb Ka</text>
<path d="M312.5,330 L312.5,296.3 M311.2,297.8 L312.5,296.5 L313.8,297.8" fill="none" stroke="#4d4d4d" stroke-width="1.15"/>
<text class="er" x="313.8" y="299.6" font-size="15.8" fill="#555555">Sr Ka</text>
<path d="M337.4,272.6 L337.4,244.29999999999998 M336.09999999999997,245.79999999999998 L337.4,244.49999999999997 L338.7,245.79999999999998" fill="none" stroke="#4d4d4d" stroke-width="1.15"/>
<text class="er" x="338.0" y="248.7" font-size="15.8" fill="#555555">Zr Ka</text>
<path d="M367.5,330 L367.5,305.1 M366.2,306.6 L367.5,305.3 L368.8,306.6" fill="none" stroke="#4d4d4d" stroke-width="1.15"/>
<text class="er" x="368.2" y="310.4" font-size="15.8" fill="#555555">Zr Kb</text>
<path d="M502.6,301 L502.6,286.0 M501.3,287.5 L502.6,286.2 L503.90000000000003,287.5" fill="none" stroke="#4d4d4d" stroke-width="1.15"/>
<text class="er" x="503.0" y="289.8" font-size="15.8" fill="#555555">Sn Kb</text>
<text class="er" x="356.4" y="151.7" font-size="15.8" fill="#555555">Primary radiation</text>
<text class="er" x="356.4" y="171.5" font-size="15.8" fill="#555555">Rayleigh &amp; Compton scatter</text>
<path d="M401.0,189.4 Q401.5,183.5 404.5,183.5 L473,183.5 Q477.2,183.5 477.2,177 Q477.2,183.5 481.5,183.5 L550,183.5 Q553.2,183.5 553.6,189.4" fill="none" stroke="#505050" stroke-width="1.1"/>
</svg></body></html>
